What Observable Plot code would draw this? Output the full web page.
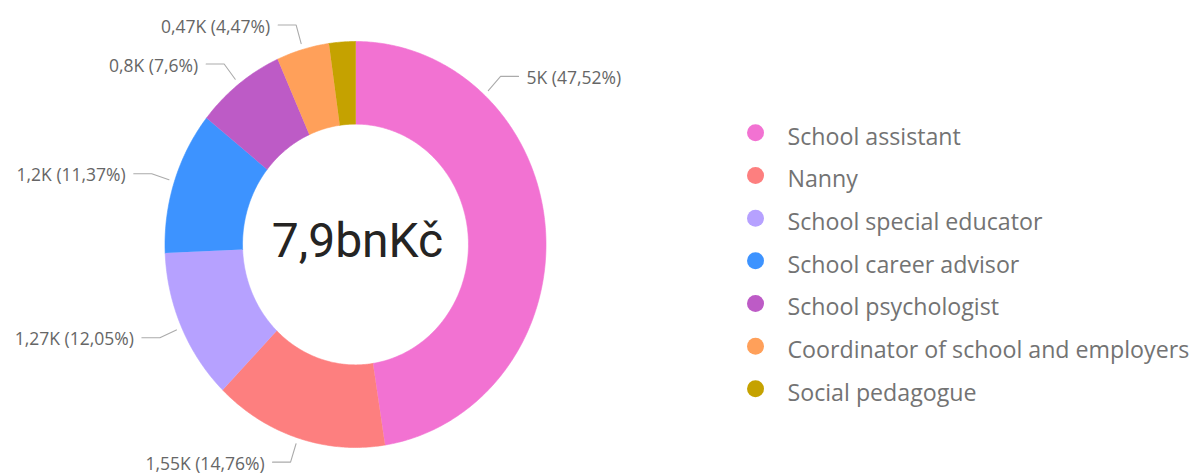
<!DOCTYPE html>
<html>
<head>
<meta charset="utf-8">
<script src="https://cdn.jsdelivr.net/npm/d3@7"></script>
<script src="https://cdn.jsdelivr.net/npm/@observablehq/plot@0.6"></script>
<style>
  html, body { margin: 0; padding: 0; background: #ffffff; }
  #chart { width: 1190px; height: 474px; }
</style>
</head>
<body>
<div id="chart"></div>
<script>
// ---------- DATA ----------
const categories = [
  "School assistant",
  "Nanny",
  "School special educator",
  "School career advisor",
  "School psychologist",
  "Coordinator of school and employers",
  "Social pedagogue"
];
const valuesK = [5, 1.55, 1.27, 1.2, 0.8, 0.47, 0.235];
const percents = [47.52, 14.76, 12.05, 11.37, 7.6, 4.47, 2.23];
const showLabel = [true, true, true, true, true, true, false];
const centerText = "7,9bnKč";

// ---------- STYLE / LAYOUT ----------
const colors = ["#F272D2", "#FD7F7F", "#B6A1FF", "#3D93FF", "#BD5BC6", "#FFA05A", "#C5A200"];
const W = 1190, H = 474;
const CX = 355, CY = 244, RX = 190.5, RY = 203, INNER = 0.593;
const labelAngleOverrideDeg = {0: 42.6};   // Power BI moved the big slice's label
const R_START = 1.03, R_ELBOW = 1.125, H_SEG = 18, TXT_GAP = 8;
const LEG_X = 755, LEG_Y0 = 132.3, LEG_DY = 42.67, LEG_TX = 787;

const fmtNum = v => String(v).replace(".", ",");
const pt = (a, r) => [CX + RX * r * Math.sin(a), CY - RY * r * Math.cos(a)];

// slice polygons
const total = d3.sum(percents);
let acc = 0;
const slices = categories.map((c, i) => {
  const a0 = acc / total * 2 * Math.PI;
  acc += percents[i];
  const a1 = acc / total * 2 * Math.PI;
  return {c, i, a0, a1};
});

const polyPts = [];
for (const s of slices) {
  const n = Math.max(2, Math.ceil((s.a1 - s.a0) / 0.01));
  for (let k = 0; k <= n; k++) {
    const a = s.a0 + (s.a1 - s.a0) * k / n;
    const [x, y] = pt(a, 1);
    polyPts.push({c: s.c, x, y});
  }
  for (let k = n; k >= 0; k--) {
    const a = s.a0 + (s.a1 - s.a0) * k / n;
    const [x, y] = pt(a, INNER);
    polyPts.push({c: s.c, x, y});
  }
}

// leader lines + labels
const leaderPts = [];
const labels = [];
for (const s of slices) {
  if (!showLabel[s.i]) continue;
  const a = labelAngleOverrideDeg[s.i] != null
    ? labelAngleOverrideDeg[s.i] * Math.PI / 180
    : (s.a0 + s.a1) / 2;
  const right = Math.sin(a) >= 0;
  const [x0, y0] = pt(a, R_START);
  const [x1, y1] = pt(a, R_ELBOW);
  const x2 = x1 + (right ? H_SEG : -H_SEG);
  leaderPts.push({c: s.c, x: x0, y: y0}, {c: s.c, x: x1, y: y1}, {c: s.c, x: x2, y: y1});
  labels.push({
    text: `${fmtNum(valuesK[s.i])}K (${fmtNum(percents[s.i])}%)`,
    x: x2 + (right ? TXT_GAP : -TXT_GAP),
    y: y1,
    anchor: right ? "start" : "end"
  });
}

const legend = categories.map((c, i) => ({c, x: LEG_X, tx: LEG_TX, y: LEG_Y0 + i * LEG_DY}));

const chart = Plot.plot({
  width: W,
  height: H,
  margin: 0,
  style: {fontFamily: "'Open Sans', sans-serif", background: "#ffffff"},
  x: {domain: [0, W], range: [0, W], axis: null},
  y: {domain: [0, H], range: [0, H], axis: null},
  color: {domain: categories, range: colors},
  marks: [
    Plot.line(polyPts, {x: "x", y: "y", z: "c", fill: "c", stroke: "c", strokeWidth: 0.6, curve: "linear"}),
    Plot.line(leaderPts, {x: "x", y: "y", z: "c", stroke: "#ABABAB", strokeWidth: 1.1, curve: "linear"}),
    Plot.text(labels.filter(d => d.anchor === "start"), {x: "x", y: "y", text: "text", textAnchor: "start", lineAnchor: "middle", dy: 2, fontSize: 17.5, fill: "#666666"}),
    Plot.text(labels.filter(d => d.anchor === "end"), {x: "x", y: "y", text: "text", textAnchor: "end", lineAnchor: "middle", dy: 2, fontSize: 17.5, fill: "#666666"}),
    Plot.text([{t: centerText, x: CX, y: CY}], {x: "x", y: "y", text: "t", fontFamily: "Roboto", fontSize: 48, fill: "#252423", lineAnchor: "middle", dx: 2, dy: -2.5}),
    Plot.dot(legend, {x: "x", y: "y", fill: "c", r: 8.5, stroke: null}),
    Plot.text(legend, {x: "tx", y: "y", text: "c", textAnchor: "start", lineAnchor: "middle", dy: 4.5, fontSize: 23.2, fill: "#737373"})
  ]
});
document.getElementById("chart").appendChild(chart);
</script>
</body>
</html>
